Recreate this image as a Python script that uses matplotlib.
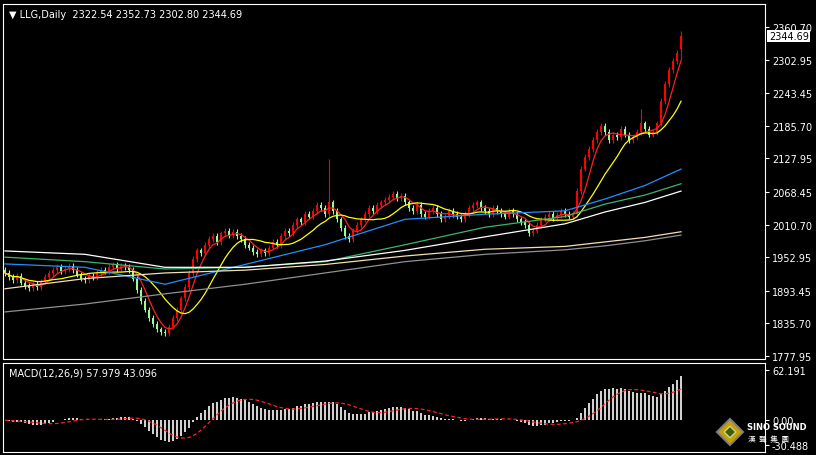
import numpy as np
import pandas as pd
import matplotlib
matplotlib.use("Agg")
import matplotlib.pyplot as plt
from matplotlib.patches import Polygon

closes = [1925,1918,1912,1920,1908,1902,1898,1905,1900,1910,1918,1925,1930,1935,1928,1932,1938,1930,1922,1915,1912,1920,1918,1925,1930,1928,1935,1940,1932,1938,1936,1930,
          1915,1895,1875,1860,1845,1835,1825,1820,1818,
          1830,1845,1860,1880,1900,1925,1950,1965,1960,
          1975,1985,1990,1980,1995,2000,1992,1998,1990,1985,
          1975,1970,1962,1958,1965,1960,1970,
          1980,1975,1990,2000,1995,2010,2020,2015,2030,2025,2035,2045,2040,2030,2050,
          2035,2020,2005,1990,1985,2000,2010,2020,
          2030,2040,2035,2045,2050,2055,2060,2065,2058,2062,
          2050,2040,2035,2045,2030,2025,2035,2040,2030,2020,2025,2035,2030,2025,2020,2030,2040,2045,2050,2040,2035,2030,2040,2035,2030,2025,2035,2030,2020,2015,2010,
          1995,2000,2010,2020,2025,2030,2022,2028,2035,2030,2025,2030,
          2070,2110,2130,2145,2160,2175,2185,
          2175,2160,2170,2165,2180,2170,2160,2165,
          2175,2190,2180,2170,2175,2190,
          2230,2260,2285,2300,2315,2344.69]
first_open = 1930
spike_highs = {81: 2127, 159: 2215, 169: 2352.73}
spike_lows = {169: 2302.80}

ma_idx = [0,20,40,60,80,100,120,140,150,160,169]
ma_white = [1964,1958,1935,1935,1946,1965,1989,2012,2033,2050,2070]
ma_green = [1953,1945,1932,1935,1945,1975,2006,2025,2047,2063,2083]
ma_blue = [1941,1935,1905,1940,1975,2020,2029,2035,2056,2080,2109]
ma_beige = [1897,1915,1925,1930,1940,1955,1967,1972,1980,1988,1998]
ma_gray = [1856,1870,1888,1905,1925,1945,1958,1966,1973,1982,1992]

price_ticks = [2360.70,2302.95,2243.45,2185.70,2127.95,2068.45,2010.70,1952.95,1893.45,1835.70,1777.95]

c = np.array(closes, float)
n = len(c)
o = np.concatenate([[first_open], c[:-1]])
o[-1] = 2322.54
hi = np.maximum(o, c) + 5
lo = np.minimum(o, c) - 5
for k, v in spike_highs.items(): hi[k] = v
for k, v in spike_lows.items(): lo[k] = v
x = np.arange(n)

fig = plt.figure(figsize=(8.16, 4.56), dpi=100, facecolor='black')
W, H = 816, 456
ax = fig.add_axes([3/W, (H-360)/H, 762/W, 355/H], facecolor='black')
ax2 = fig.add_axes([3/W, (H-453)/H, 762/W, 89/H], facecolor='black')

up_col, dn_col = '#ff0000', '#98fb98'
for i in range(n):
    col = up_col if c[i] >= o[i] else dn_col
    ax.vlines(x[i], lo[i], hi[i], color=col, lw=0.8)
    ax.bar(x[i], max(abs(c[i]-o[i]), 1.5), bottom=min(o[i], c[i]), width=0.72, color=col, lw=0)

s = pd.Series(c)
ax.plot(x, s.rolling(5, min_periods=1).mean(), color='#ff2020', lw=0.9)
ax.plot(x, s.rolling(13, min_periods=1).mean(), color='#ffff00', lw=0.9)
ax.plot(ma_idx, ma_blue, color='#1e90ff', lw=0.9)
ax.plot(ma_idx, ma_green, color='#3cb371', lw=0.9)
ax.plot(ma_idx, ma_white, color='#ffffff', lw=0.9)
ax.plot(ma_idx, ma_beige, color='#f5deb3', lw=0.9)
ax.plot(ma_idx, ma_gray, color='#909090', lw=0.9)

ax.set_xlim(-0.5, 190)
ax.set_ylim(1772.6, 2401.4)
ax.yaxis.tick_right()
ax.set_yticks(price_ticks)
ax.set_yticklabels([f"{t:.2f}" for t in price_ticks])
ax.set_xticks([])
ax.tick_params(axis='y', colors='white', labelsize=7, length=3, pad=2)
for sp in ax.spines.values():
    sp.set_color('white')
ax.text(0.008, 0.985, "\u25bc LLG,Daily  2322.54 2352.73 2302.80 2344.69", transform=ax.transAxes,
        color='white', fontsize=7, va='top', ha='left')
ax.text(1.005, (2344.69-1772.6)/(2401.4-1772.6), "2344.69", transform=ax.transAxes, color='black',
        fontsize=7, va='center', ha='left', bbox=dict(facecolor='white', edgecolor='none', pad=1))

# MACD
e12 = s.ewm(span=12, adjust=False).mean()
e26 = s.ewm(span=26, adjust=False).mean()
macd = e12 - e26
sig = macd.rolling(9, min_periods=1).mean()
ax2.bar(x, macd, width=0.35, color='#d0d0d0', lw=0)
ax2.plot(x, sig, color='#ff2020', lw=0.9, ls=(0, (3, 2)))
ax2.set_xlim(-0.5, 190)
ax2.set_ylim(-39.14, 70.84)
ax2.yaxis.tick_right()
ax2.set_yticks([62.191, 0.0, -30.488])
ax2.set_yticklabels(["62.191", "0.00", "-30.488"])
ax2.set_xticks([])
ax2.tick_params(axis='y', colors='white', labelsize=7, length=3, pad=2)
for sp in ax2.spines.values():
    sp.set_color('white')
ax2.text(0.008, 0.95, "MACD(12,26,9) 57.979 43.096", transform=ax2.transAxes,
         color='white', fontsize=7, va='top', ha='left')

# watermark
cx, cy = 730/W, (H-433)/H
dx, dy = 13/W, 13/H
fig.patches.append(Polygon([[cx, cy+dy], [cx+dx, cy], [cx, cy-dy], [cx-dx, cy]], closed=True,
                           transform=fig.transFigure, facecolor='#c8a000', edgecolor='#808080', lw=1.5))
fig.patches.append(Polygon([[cx, cy+dy*0.45], [cx+dx*0.45, cy], [cx, cy-dy*0.45], [cx-dx*0.45, cy]], closed=True,
                           transform=fig.transFigure, facecolor='#406000', edgecolor='#d0d0a0', lw=1))
fig.text(747/W, (H-428)/H, "SINO SOUND", color='white', fontsize=6, fontweight='bold', va='center', ha='left')
fig.text(748/W, (H-440)/H, "漢  聲  集  團", color='white', fontsize=5.5, va='center', ha='left',
         family=['Noto Sans CJK TC', 'DejaVu Sans'])

fig.savefig("out.png", dpi=100, facecolor='black')
